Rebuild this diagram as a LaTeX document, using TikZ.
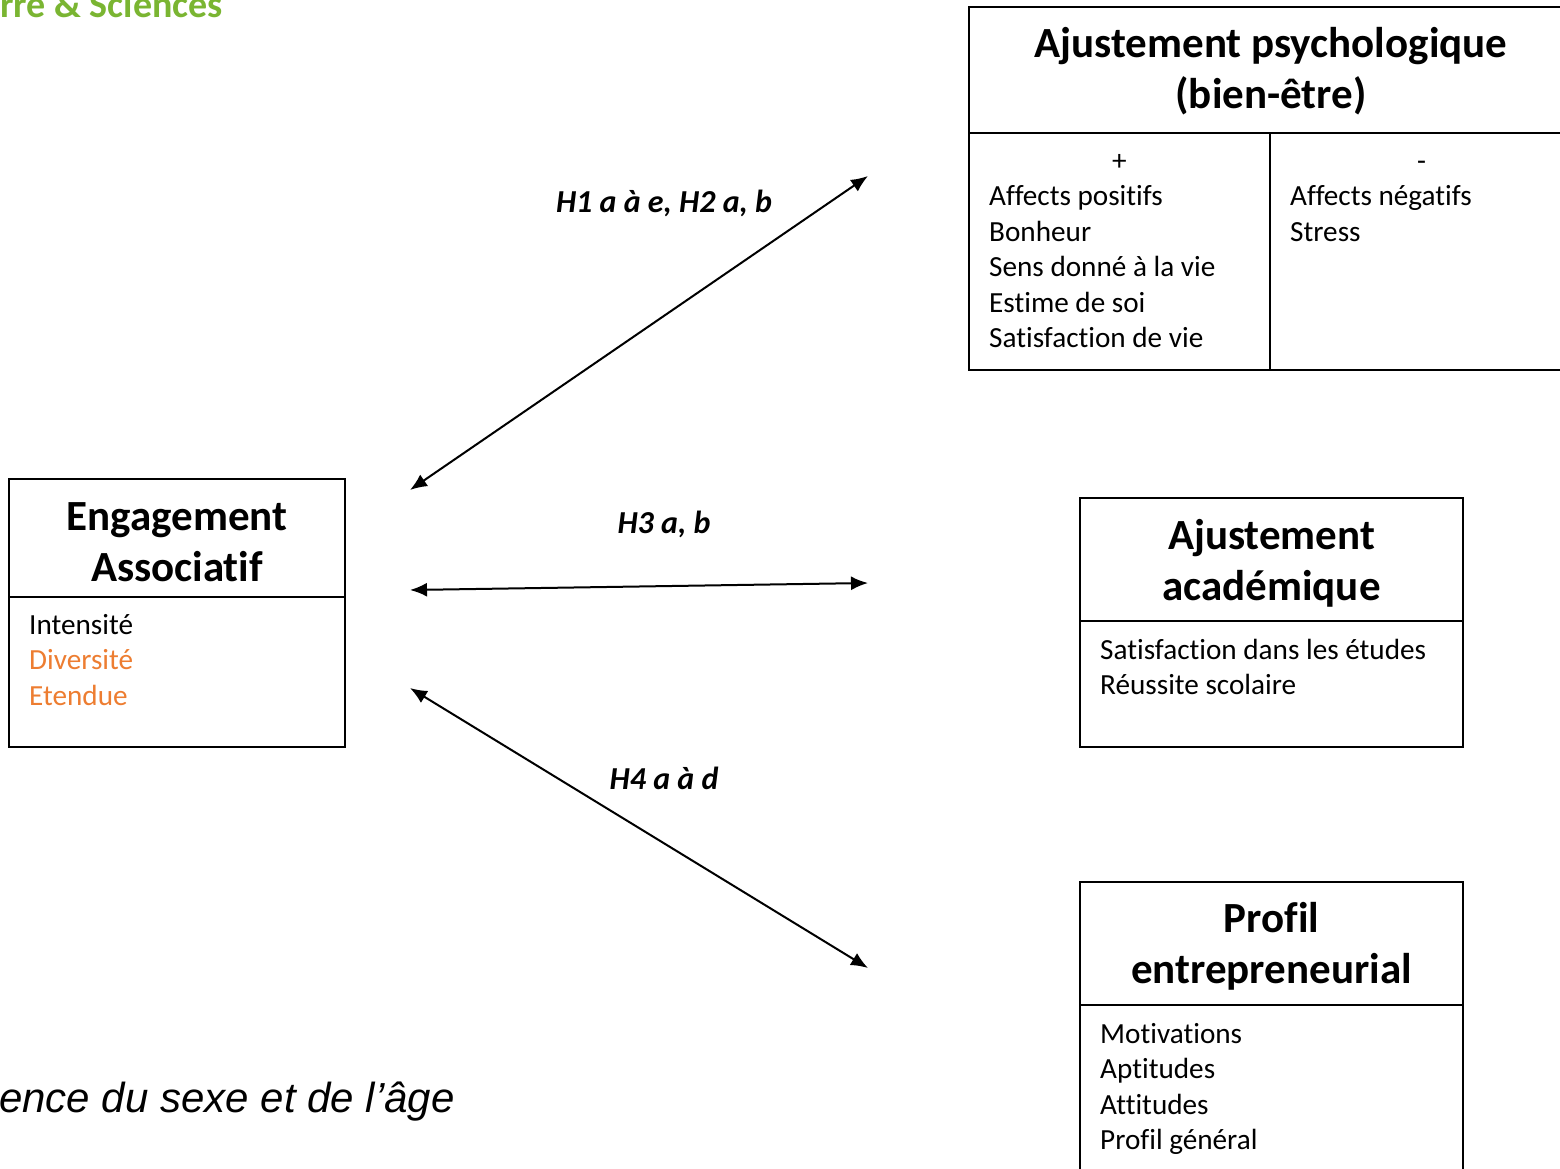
\documentclass[tikz,border=0pt]{standalone}
\usepackage{fontspec}
\setmainfont{Carlito}[Ligatures=NoCommon]
\newfontfamily\arialfont{Liberation Sans}
\usepackage{xcolor}
\usetikzlibrary{positioning,arrows.meta}
\definecolor{assoorange}{RGB}{237,125,49}
\definecolor{logogreen}{RGB}{122,181,50}

\tikzset{
  headbox/.style={draw,line width=2pt,inner sep=0pt,outer sep=0pt},
  title/.style={inner sep=0pt,align=center,font=\fontsize{43}{51}\selectfont\bfseries},
  bodybox/.style={draw,line width=2pt,inner sep=0pt,outer sep=0pt},
  item/.style={anchor=base west,inner sep=0pt,font=\fontsize{29.2}{35.5}\selectfont},
  hyp/.style={inner sep=0pt,font=\fontsize{32}{38}\selectfont\bfseries\itshape},
  link/.style={line width=2pt,{Latex[length=17pt,width=14pt]}-{Latex[length=17pt,width=14pt]}}
}

\begin{document}
\begin{tikzpicture}[x=1pt,y=-1pt]
\useasboundingbox (0,0) rectangle (1560,1169);

% logo, cut by the page edge
\node[inner sep=0pt,anchor=base west,text=logogreen,font=\fontsize{38}{46}\selectfont\bfseries] (logo) at (0,18) {rre \& Sciences};

% Engagement associatif
\node[headbox,minimum width=336pt,minimum height=118pt] (eng) at (177,538) {};
\node[title] (engtitle) at (177,542) {Engagement\\Associatif};
\node[bodybox,minimum width=336pt,minimum height=150pt,below=0pt of eng] (engbody) {};
\foreach \txt/\col [count=\i from 0] in {Intensité/black,Diversité/assoorange,Etendue/assoorange}
  \node[item,text=\col] (eng\i) at (29,634+35.5*\i) {\txt};

% Ajustement psychologique
\node[headbox,minimum width=604pt,minimum height=126pt] (psy) at (1271,70) {};
\node[title] (psytitle) at (1271,71) {Ajustement psychologique\\(bien-être)};
\node[bodybox,minimum width=301pt,minimum height=237pt,anchor=north west] (psypos) at (psy.south west) {};
\node[bodybox,minimum width=303pt,minimum height=237pt,anchor=north east] (psyneg) at (psy.south east) {};
\node[item,anchor=base] (plus) at (1119.5,170.5) {+};
\node[item,anchor=base] (minus) at (1421.5,170.5) {-};
\foreach \txt [count=\i from 0] in {Affects positifs,Bonheur,Sens donné à la vie,Estime de soi,Satisfaction de vie}
  \node[item] (pos\i) at (989,205.5+35.5*\i) {\txt};
\foreach \txt [count=\i from 0] in {Affects négatifs,Stress}
  \node[item] (neg\i) at (1290,205.5+35.5*\i) {\txt};

% Ajustement academique
\node[headbox,minimum width=383pt,minimum height=123pt] (acad) at (1271.5,559.5) {};
\node[title] (acadtitle) at (1271.5,563) {Ajustement\\académique};
\node[bodybox,minimum width=383pt,minimum height=126pt,below=0pt of acad] (acadbody) {};
\foreach \txt [count=\i from 0] in {Satisfaction dans les études,Réussite scolaire}
  \node[item] (acad\i) at (1100,659+35.5*\i) {\txt};

% Profil entrepreneurial
\node[headbox,minimum width=383pt,minimum height=123pt] (prof) at (1271.5,943.5) {};
\node[title] (proftitle) at (1271.5,946.5) {Profil\\entrepreneurial};
\node[bodybox,minimum width=383pt,minimum height=200pt,below=0pt of prof] (profbody) {};
\foreach \txt [count=\i from 0] in {Motivations,Aptitudes,Attitudes,Profil général}
  \node[item] (prof\i) at (1100,1043+35.5*\i) {\txt};

% hypotheses
\coordinate (h1a) at (410,490);
\coordinate (h1b) at (868,176);
\draw[link] (h1a) -- (h1b);
\node[hyp] (h1) at (664,203) {H1 a à e, H2 a, b};

\coordinate (h3a) at (410,590);
\coordinate (h3b) at (868,583);
\draw[link] (h3a) -- (h3b);
\node[hyp] (h3) at (664,524) {H3 a, b};

\coordinate (h4a) at (410,688);
\coordinate (h4b) at (868,968);
\draw[link] (h4a) -- (h4b);
\node[hyp] (h4) at (664,778) {H4 a à d};

% moderateurs, cut by the page edge
\node[inner sep=0pt,anchor=base west,font={\arialfont\fontsize{42}{50}\selectfont\itshape}] (moder) at (-1,1112) {ence du sexe et de l’âge};
\end{tikzpicture}
\end{document}
